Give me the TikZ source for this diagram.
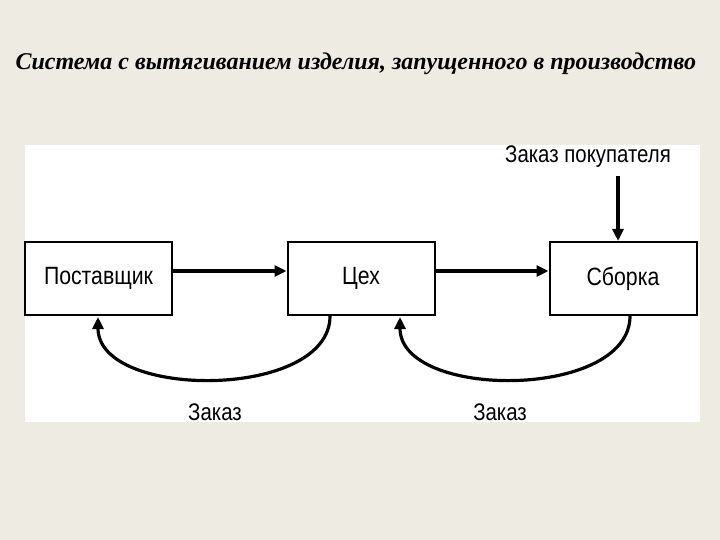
\documentclass[tikz,border=0pt]{standalone}
\usepackage{fontspec}
\setmainfont{Liberation Serif}
\newfontfamily\diag{Liberation Sans}
\usetikzlibrary{arrows.meta}
\begin{document}
\begin{tikzpicture}[x=1pt,y=-1pt,
 box/.style={draw,line width=2pt,minimum width=147pt,minimum height=73pt,inner sep=0pt,font=\diag\fontsize{25}{27}\selectfont},
 lab/.style={font=\diag\fontsize{24}{26}\selectfont},
 arr/.style={line width=3.2pt,-{Triangle[length=12pt,width=11pt]}}]
\useasboundingbox[fill={rgb,255:red,238;green,235;blue,227}] (0,0) rectangle (720,540);
\fill[white] (25,145) rectangle (700,422);
\node[anchor=west,font=\bfseries\itshape\fontsize{24}{27}\selectfont] (title) at (12,64) {Система с вытягиванием изделия, запущенного в производство};
\node[box] (s) at (98.5,278.5) {\scalebox{0.85}[1]{Поставщик}};
\node[box] (c) at (361,278.5) {\scalebox{0.85}[1]{Цех}};
\node[box] (a) at (623,278.5) {\scalebox{0.85}[1]{Сборка}};
\node[lab] (zp) at (588,157) {\scalebox{0.85}[1]{Заказ покупателя}};
\node[lab] (z1) at (215,412) {\scalebox{0.85}[1]{Заказ}};
\node[lab] (z2) at (500,412) {\scalebox{0.85}[1]{Заказ}};
\draw[arr] (s.east|-0,271) -- (c.west|-0,271);
\draw[arr] (c.east|-0,271) -- (a.west|-0,271);
\draw[arr] (618,176) -- (618,241);
\coordinate (c1) at (330,316);
\coordinate (s1) at (98,317);
\coordinate (a1) at (630,316);
\coordinate (c2) at (400,317);
\draw[arr] (c1) .. controls (330,400) and (98,400) .. (s1);
\draw[arr] (a1) .. controls (630,400) and (400,400) .. (c2);
\end{tikzpicture}
\end{document}
